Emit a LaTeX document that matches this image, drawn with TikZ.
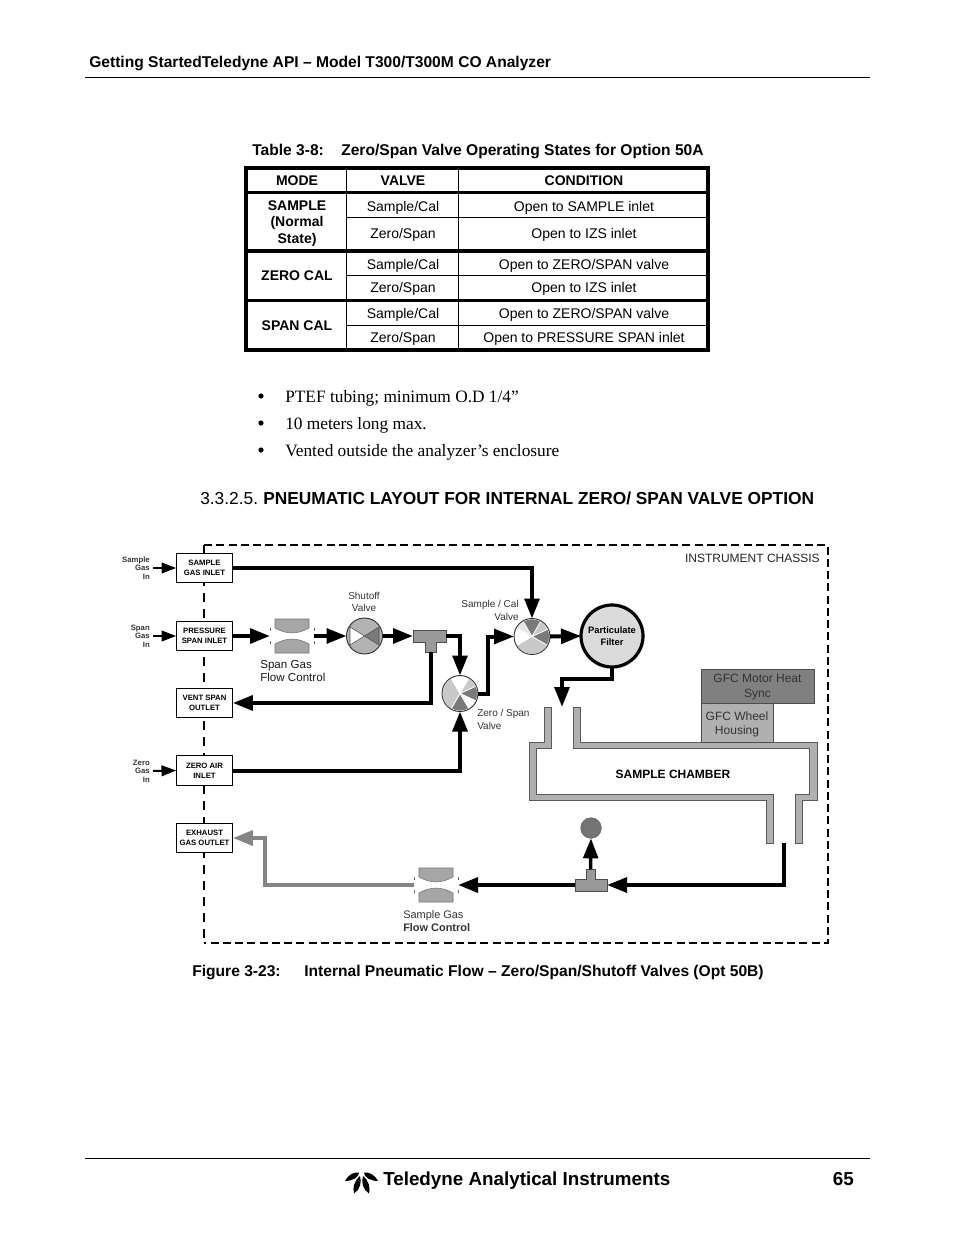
\documentclass[tikz,border=0pt]{standalone}
\usepackage{fontspec}
\setmainfont{Liberation Sans}
\newfontfamily\timesfont{Liberation Serif}
\usetikzlibrary{arrows.meta}
\definecolor{wallgray}{HTML}{B0B0B0}
\definecolor{darkgray}{HTML}{7A7A7A}
\definecolor{lightgray}{HTML}{C8C8C8}
\definecolor{exhaustgray}{HTML}{858585}
\tikzset{
  bigtip/.style={-{Triangle[length=15pt,width=11pt]}},
  flowline/.style={line width=3pt,bigtip},
  exhaustline/.style={line width=3pt,color=exhaustgray,bigtip},
  inarrow/.style={line width=1.5pt,-{Triangle[length=11pt,width=8pt]}},
  portbox/.style={draw,fill=white,line width=.7pt,inner sep=0pt,outer sep=0pt,minimum width=42.5pt,minimum height=22pt,align=center,font=\fontsize{5.8}{7.2}\selectfont\bfseries},
  gaslabel/.style={anchor=east,align=right,inner sep=0pt,text=black!80,font=\fontsize{5.8}{6.3}\selectfont\bfseries},
  partlabel/.style={inner sep=0pt,text=black!80,font=\fontsize{7.5}{9.2}\selectfont},
  flowlabel/.style={inner sep=0pt,anchor=west,align=left,text=black!90,font=\fontsize{8.7}{9.6}\selectfont},
  valve/.style={circle,inner sep=0pt,outer sep=0pt,minimum size=27pt},
  blank/.style={inner sep=0pt,outer sep=0pt},
  tee/.style={fill=black!40,draw=black!70,line width=.6pt},
  chassis/.style={line width=1.9pt,dash pattern=on 6pt off 3.2pt},
  cell/.style={inner sep=0pt,align=center,font=\fontsize{10.5}{12}\selectfont},
  headcell/.style={cell,font=\fontsize{10.5}{12}\selectfont\bfseries},
  modecell/.style={inner sep=0pt,align=center,font=\fontsize{10.5}{12.4}\selectfont\bfseries},
  boldtext/.style={inner sep=0pt,anchor=base west,font=\fontsize{11.7}{13}\selectfont\bfseries},
  bullettext/.style={inner sep=0pt,anchor=west,font=\timesfont\fontsize{13}{15}\selectfont},
}
% wedges of a rotary valve, clockwise from east since y points down
\newcommand{\valvewedges}[2]{%
  \foreach \a/\b/\c in {#2}
    \filldraw[draw=white,line width=.5pt,fill=\c] (#1.center) -- ++(\a:17.5)
      arc[start angle=\a,end angle=\b,radius=17.5] -- cycle;
  \draw[line width=.7pt,black!80] (#1.center) circle [radius=18];
}
% flow restrictor around a named node
\newcommand{\flowbody}[1]{%
  \begin{scope}[shift={(#1.center)}]
    \fill[white] (-22,-9) .. controls (-8,-3) and (8,-3) .. (22,-9) -- (22,9)
      .. controls (8,3) and (-8,3) .. (-22,9) -- cycle;
    \filldraw[fill=black!35,draw=black!55,line width=.4pt] (-17,-17) -- (17,-17) -- (17,-8)
      .. controls (6,-1.5) and (-6,-1.5) .. (-17,-8) -- cycle;
    \filldraw[fill=black!35,draw=black!55,line width=.4pt] (-17,17) -- (17,17) -- (17,8)
      .. controls (6,1.5) and (-6,1.5) .. (-17,8) -- cycle;
    \foreach \sx in {-22,22}
      \draw[black!60,line width=.4pt] (\sx,-8) -- (\sx,-5) (\sx,5) -- (\sx,8);
  \end{scope}
}
\begin{document}
\begin{tikzpicture}[x=0.75pt,y=-0.75pt]
  \useasboundingbox (0,0) rectangle (954,1235);
  \fill[white] (0,0) rectangle (954,1235);

  % page header
  \node[boldtext] (header) at (89,67) {Getting StartedTeledyne API – Model T300/T300M CO Analyzer};
  \draw[line width=.7pt] (85,77) -- (870,77);

  % table
  \node[boldtext] (tablenum) at (252,155) {Table 3-8:};
  \node[boldtext] (tablecap) at (341,155) {Zero/Span Valve Operating States for Option 50A};
  \draw[line width=.75pt] (346,168) -- (346,350);
  \draw[line width=.75pt] (458,168) -- (458,350);
  \foreach \y in {217,275,325}
    \draw[line width=.75pt] (346,\y) -- (708,\y);
  \foreach \y in {192.7,251,300.3}
    \draw[line width=2.4pt] (246,\y) -- (708,\y);
  \draw[line width=2.8pt] (246,168) rectangle (708,350);
  \node[headcell] (modehead) at (297,181) {MODE};
  \node[headcell] (valvehead) at (403,181) {VALVE};
  \node[headcell] (condhead) at (584,181) {CONDITION};
  \node[modecell] (modesample) at (297,223.5) {SAMPLE\\(Normal\\State)};
  \node[modecell] (modezero) at (297,276) {ZERO CAL};
  \node[modecell] (modespan) at (297,326) {SPAN CAL};
  \foreach \i/\y/\v/\c in {1/208/{Sample/Cal}/{Open to SAMPLE inlet},
      2/235/{Zero/Span}/{Open to IZS inlet},
      3/266/{Sample/Cal}/{Open to ZERO/SPAN valve},
      4/289/{Zero/Span}/{Open to IZS inlet},
      5/315/{Sample/Cal}/{Open to ZERO/SPAN valve},
      6/339/{Zero/Span}/{Open to PRESSURE SPAN inlet}} {
    \node[cell] (valve\i) at (403,\y) {\v};
    \node[cell] (cond\i) at (584,\y) {\c};
  }

  % bullets
  \foreach \i/\y/\t in {1/396/{PTEF tubing; minimum O.D 1/4”},
      2/423/{10 meters long max.},
      3/450/{Vented outside the analyzer’s enclosure}} {
    \fill (261,\y) circle [radius=2.6];
    \node[bullettext] (bullet\i) at (285,\y+2) {\t};
  }

  % section title
  \node[inner sep=0pt,anchor=base west,font=\fontsize{13}{15}\selectfont] (secnum) at (200,504) {3.3.2.5.};
  \node[inner sep=0pt,anchor=base west,font=\fontsize{13}{15}\selectfont\bfseries] (sectitle) at (263,504) {PNEUMATIC LAYOUT FOR INTERNAL ZERO/ SPAN VALVE OPTION};

  % chassis outline
  \draw[chassis] (204,545) -- (828,545) -- (828,943) -- (204,943);
  \draw[line width=1.3pt,dash pattern=on 7pt off 5pt] (204,545) -- (204,943);
  \node[inner sep=0pt,anchor=east,text=black!85,font=\fontsize{9}{10}\selectfont] (chassislabel) at (820,558) {INSTRUMENT CHASSIS};

  % ports on the left
  \node[portbox] (samplein) at (204.5,568) {SAMPLE\\GAS INLET};
  \node[portbox] (spanin) at (204.5,636) {PRESSURE\\SPAN INLET};
  \node[portbox] (ventout) at (204.5,703) {VENT SPAN\\OUTLET};
  \node[portbox] (zeroin) at (204.5,770.5) {ZERO AIR\\INLET};
  \node[portbox] (exhaust) at (204.5,838) {EXHAUST\\GAS OUTLET};
  \node[gaslabel] (samplegas) at (150,568) {Sample\\Gas\\In};
  \node[gaslabel] (spangas) at (150,636) {Span\\Gas\\In};
  \node[gaslabel] (zerogas) at (150,771) {Zero\\Gas\\In};
  \draw[inarrow] (samplegas.east) ++(3,0) -- (samplein.west);
  \draw[inarrow] (spangas.east) ++(3,0) -- (spanin.west);
  \draw[inarrow] (zerogas.east) ++(3,0) -- (zeroin.west);

  % upper parts
  \node[blank,minimum width=33pt,minimum height=25pt] (spanflow) at (292,636) {};
  \flowbody{spanflow}
  \node[valve] (shutoff) at (364.5,636) {};
  \fill[black!30] (shutoff) circle [radius=18];
  \draw[line width=.7pt,black!80] (shutoff) circle [radius=18];
  \filldraw[fill=white,draw=black!70,line width=.4pt] (shutoff.center) -- (350,627) -- (350,645) -- cycle;
  \filldraw[fill=darkgray,draw=black!70,line width=.4pt] (shutoff.center) -- (379,627) -- (379,645) -- cycle;
  \filldraw[tee] (413,630) -- (446,630) -- (446,642) -- (436,642) -- (436,652) -- (425,652) -- (425,642) -- (413,642) -- cycle;
  \node[blank,minimum width=24.75pt,minimum height=9pt] (spantee) at (429.5,636) {};
  \node[blank,minimum width=8pt,minimum height=8pt] (spanstem) at (430.5,647) {};
  \node[valve] (zerovalve) at (460,693.5) {};
  \valvewedges{zerovalve}{-25/25/darkgray,25/60/white,60/120/darkgray,120/240/lightgray,240/300/white,300/335/lightgray}
  \node[valve] (calvalve) at (532,636.5) {};
  \valvewedges{calvalve}{-25/30/darkgray,30/150/lightgray,150/210/white,210/240/black!10,240/300/darkgray,300/335/lightgray}
  \node[circle,draw,line width=2.4pt,fill=black!14,inner sep=0pt,outer sep=0pt,minimum size=46.5pt,align=center,font=\fontsize{7}{9}\selectfont\bfseries] (filter) at (612,636) {Particulate\\Filter};

  \node[partlabel,align=center] (shutofflabel) at (364,602) {Shutoff\\Valve};
  \node[flowlabel] (spanflowlabel) at (260,671) {Span Gas\\Flow Control};
  \node[partlabel,anchor=east,align=right] (callabel) at (519,610.5) {Sample / Cal\\Valve};
  \node[partlabel,anchor=west,align=left] (zerolabel) at (477,719.5) {Zero / Span\\Valve};

  % sample chamber and GFC
  \filldraw[fill=wallgray,draw=black!65,line width=.6pt] (544,707) -- (544,742) -- (529,742) -- (529,800) -- (766,800) -- (766,843) -- (773,843) -- (773,794) -- (536,794) -- (536,748) -- (551,748) -- (551,707) -- cycle;
  \filldraw[fill=wallgray,draw=black!65,line width=.6pt] (573,707) -- (573,748) -- (809,748) -- (809,794) -- (795,794) -- (795,843) -- (802,843) -- (802,800) -- (817,800) -- (817,742) -- (580,742) -- (580,707) -- cycle;
  \node[inner sep=0pt,font=\fontsize{9}{10}\selectfont\bfseries] (chamber) at (673,774) {SAMPLE CHAMBER};
  \node[draw=black!70,fill=black!50,line width=.5pt,inner sep=0pt,outer sep=0pt,minimum width=84.75pt,minimum height=25.5pt,align=center,text=black!80,font=\fontsize{9}{11}\selectfont] (motor) at (757.5,686) {\rule{0pt}{8pt}GFC Motor Heat\\Sync};
  \node[draw=black!70,fill=wallgray,line width=.5pt,inner sep=0pt,outer sep=0pt,minimum width=54pt,minimum height=29.25pt,align=center,text=black!80,font=\fontsize{9}{11}\selectfont] (wheel) at (737,722.5) {\rule{0pt}{9.5pt}GFC Wheel\\Housing};
  \coordinate (chamberin) at (562,707);
  \coordinate (chamberout) at (784,843);

  % lower parts
  \filldraw[tee] (575,879) -- (586,879) -- (586,869) -- (595,869) -- (595,879) -- (607,879) -- (607,891) -- (575,891) -- cycle;
  \node[blank,minimum width=24pt,minimum height=9pt] (sampletee) at (591,885) {};
  \node[blank,minimum width=7pt,minimum height=7pt] (samplestem) at (590.5,874) {};
  \node[circle,draw=black!60,fill=black!55,line width=.4pt,inner sep=0pt,outer sep=0pt,minimum size=15.5pt] (bulb) at (591,828) {};
  \node[blank,minimum width=33pt,minimum height=25pt] (sampleflow) at (436,885) {};
  \flowbody{sampleflow}
  \node[partlabel,anchor=west,align=left,font=\fontsize{8.2}{9.4}\selectfont] (sampleflowlabel) at (403,921) {Sample Gas\\\textbf{Flow Control}};

  % flow paths
  \draw[flowline] (samplein.east) -| (calvalve.north);
  \draw[flowline] (spanin.east) -- (spanflow.west);
  \draw[flowline] (spanflow.east) -- (shutoff.west);
  \draw[flowline] (shutoff.east) -- (spantee.west);
  \draw[flowline] (spantee.east) -| (zerovalve.north);
  \draw[flowline] (spanstem.south) |- (ventout.east);
  \draw[flowline] (zeroin.east) -| (zerovalve.south);
  \draw[flowline] (zerovalve.east) -- ++(10,0) |- (calvalve.west);
  \draw[flowline] (calvalve.east) -- (filter.west);
  \draw[flowline] (filter.south) -- ++(0,12) -| (chamberin);
  \draw[flowline] (chamberout) |- (sampletee.east);
  \draw[flowline] (sampletee.west) -- (sampleflow.east);
  \draw[line width=2.6pt,bigtip] (samplestem.north) -- (bulb.south);
  \draw[exhaustline] (sampleflow.west) -- ++(-149,0) |- (exhaust.east);

  % figure caption
  \node[boldtext] (fignum) at (192,976) {Figure 3-23:};
  \node[boldtext] (figcap) at (304,976) {Internal Pneumatic Flow – Zero/Span/Shutoff Valves (Opt 50B)};

  % page footer
  \draw[line width=.7pt] (85,1158) -- (870,1158);
  \foreach \m in {0,1} {
    \begin{scope}[xshift={\m*723*0.75pt},xscale={1-2*\m}]
      \fill (345,1181) .. controls (349,1174) and (354,1172) .. (359,1172.5) .. controls (359,1177) and (353,1181) .. (345,1181) -- cycle;
      \fill (360,1176) .. controls (354,1181) and (352.5,1188) .. (354,1193.5) .. controls (360,1190) and (362,1182) .. (360,1176) -- cycle;
    \end{scope}
  }
  \node[inner sep=0pt,anchor=base west,font=\fontsize{14.1}{16}\selectfont\bfseries] (footer) at (383,1185) {Teledyne Analytical Instruments};
  \node[inner sep=0pt,anchor=base east,font=\fontsize{14.1}{16}\selectfont\bfseries] (pagenum) at (854,1185) {65};
\end{tikzpicture}
\end{document}
